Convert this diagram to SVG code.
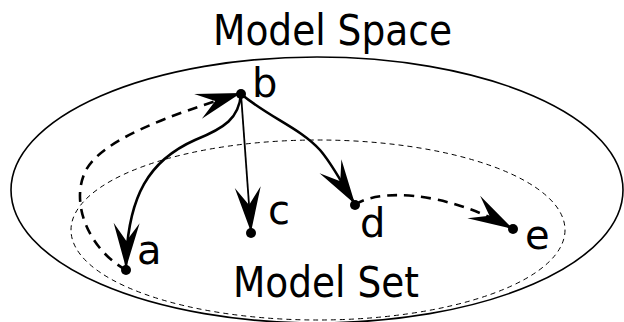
<svg xmlns="http://www.w3.org/2000/svg" width="624" height="322" viewBox="0 0 624 322">
<style>
text{font-family:"DejaVu Sans","Liberation Sans",sans-serif;fill:#000}
.title{font-size:43px}
.lbl{font-size:40px}
.dot{fill:#000}
.solid{fill:none;stroke:#000;stroke-width:2.6;marker-end:url(#ah)}
.thin{fill:none;stroke:#000;stroke-width:1.8;marker-end:url(#ah)}
.dash{fill:none;stroke:#000;stroke-width:2.6;stroke-dasharray:10 7;marker-end:url(#ah)}
</style>
<defs>
<marker id="ah" markerUnits="userSpaceOnUse" markerWidth="60" markerHeight="40" viewBox="-50 -20 60 40" refX="0" refY="0" orient="auto" overflow="visible">
<path d="M0,0 L-45,-13 L-27,0 L-45,13 Z" fill="#000"/>
</marker>
</defs>
<g id="model-space">
<ellipse cx="317" cy="190" rx="306" ry="133" fill="none" stroke="#000" stroke-width="1.6"/>
<text class="title" x="213" y="45" textLength="239" lengthAdjust="spacingAndGlyphs">Model Space</text>
</g>
<g id="model-set">
<ellipse cx="318" cy="230" rx="247" ry="90" fill="none" stroke="#000" stroke-width="1" stroke-dasharray="5 4"/>
<text class="title" x="233" y="297" textLength="186" lengthAdjust="spacingAndGlyphs">Model Set</text>
</g>
<g id="connectors">
<path class="dash" d="M126,270 C90,250 70,205 85,172 C100,140 170,115 241,93"/>
<path class="solid" d="M241,94 C239,118 225,128 195,140 C150,160 127,195 126,268"/>
<path class="thin" d="M241,94 L251,232"/>
<path class="solid" d="M241,94 C270,118 300,128 320,150 C333,165 342,184 355,204"/>
<path class="dash" d="M355,205 C375,190 440,188 513,229"/>
</g>
<g id="node-a"><circle class="dot" cx="126" cy="270" r="5"/><text class="lbl" x="137" y="264">a</text></g>
<g id="node-b"><circle class="dot" cx="241" cy="94" r="5"/><text class="lbl" x="252" y="97">b</text></g>
<g id="node-c"><circle class="dot" cx="251" cy="233" r="5"/><text class="lbl" x="268" y="224">c</text></g>
<g id="node-d"><circle class="dot" cx="355" cy="205" r="5"/><text class="lbl" x="360" y="237">d</text></g>
<g id="node-e"><circle class="dot" cx="513" cy="229" r="5"/><text class="lbl" x="525" y="249">e</text></g>
</svg>
